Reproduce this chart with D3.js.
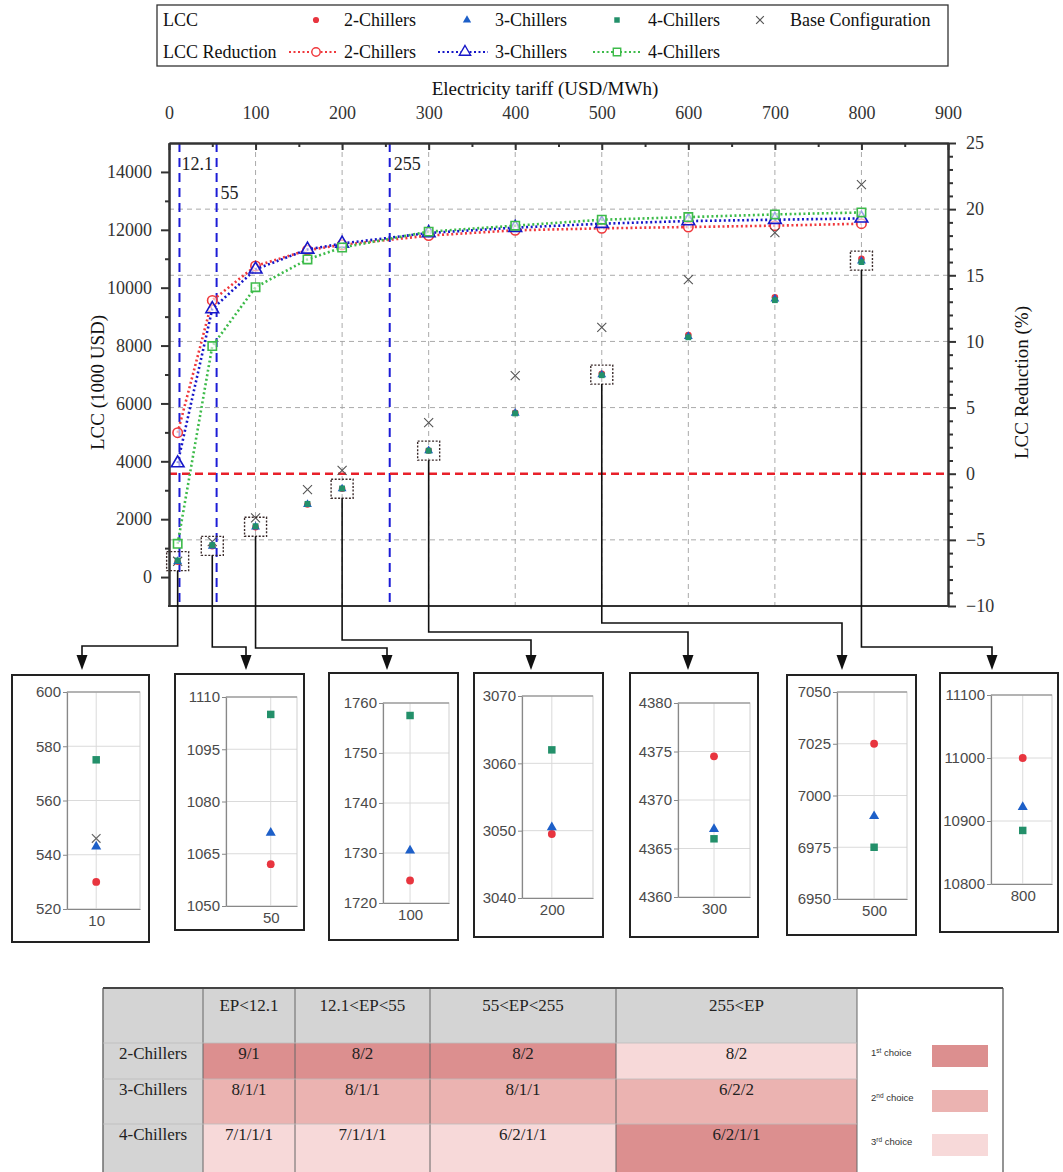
<!DOCTYPE html>
<html><head><meta charset="utf-8">
<script src="https://cdn.jsdelivr.net/npm/d3@7"></script>
<style>
body{margin:0;background:#fff;}
svg{display:block;}
</style></head><body>
<svg id="chart" width="1063" height="1172"></svg>
<script>
// ---------- data ----------
const tariffs   = [10, 50, 100, 160, 200, 300, 400, 500, 600, 700, 800];          // USD/MWh
const lcc2      = [530, 1062, 1724.5, 2510, 3049.5, 4374.5, 5680, 7025, 8363, 9669, 11000]; // 1000 USD
const lcc3      = [543, 1071, 1730.5, 2508, 3050.5, 4367, 5665, 6990, 8317, 9615, 10922];
const lcc4      = [575, 1105, 1757.5, 2530, 3062, 4366, 5655, 6975, 8286, 9568, 10885];
const lccBase   = [546, 1222, 2046, 3020, 3687, 5340, 6960, 8630, 10280, 11900, 13560];
const red2      = [3.1, 13.1, 15.7, 16.9, 17.3, 18.0, 18.4, 18.55, 18.65, 18.75, 18.9]; // LCC reduction %
const red3      = [0.8, 12.45, 15.45, 16.95, 17.4, 18.2, 18.6, 18.9, 19.1, 19.2, 19.3];
const red4      = [-5.3, 9.65, 14.1, 16.2, 17.1, 18.3, 18.75, 19.2, 19.4, 19.6, 19.75];
const thresholds = [12.1, 55, 255];
const xTicks    = d3.range(0, 901, 100);
const yLTicks   = d3.range(0, 14001, 2000);
const yRTicks   = d3.range(-10, 26, 5);

// zoomed detail panels
const insetTariffs = [10, 50, 100, 200, 300, 500, 800];
const insetRanges  = [[520,600],[1050,1110],[1720,1760],[3040,3070],[4360,4380],[6950,7050],[10800,11100]];
const insetSteps   = [20, 15, 10, 10, 5, 25, 100];

// summary table
const tableCols  = ["EP<12.1", "12.1<EP<55", "55<EP<255", "255<EP"];
const tableRows  = ["2-Chillers", "3-Chillers", "4-Chillers"];
const tableVals  = [["9/1","8/2","8/2","8/2"],["8/1/1","8/1/1","8/1/1","6/2/2"],["7/1/1/1","7/1/1/1","6/2/1/1","6/2/1/1"]];
const tableRank  = [[1,1,1,3],[2,2,2,2],[3,3,3,1]];
const rankNames  = [["1","st"],["2","nd"],["3","rd"]];

// ---------- styles ----------
const SERIF = "'Liberation Serif','Times New Roman',serif";
const SANS  = "'Liberation Sans',Arial,sans-serif";
const C = {
  red:"#e8353f", blue:"#1d5fc8", green:"#23906a", base:"#555",
  lred:"#f0383c", lblue:"#1616c8", lgreen:"#3dbb4a",
  thr:"#1c1cd6", zero:"#e8202a", grid:"#a0a0a0", axis:"#333"
};
const rankFill = {1:"#dc8f8f", 2:"#ebb3b1", 3:"#f7d9d9"};
const intFmt = d3.format("d");

const svg = d3.select("#chart");
const P = {left:169, right:948, top:143, bottom:606};
const x  = d3.scaleLinear().domain([0, 900]).range([P.left, P.right]);
const yL = d3.scaleLinear().domain([-1000, 15000]).range([P.bottom, P.top]);
const yR = d3.scaleLinear().domain([-10, 25]).range([P.bottom, P.top]);

// ---------- legend ----------
const lg = svg.append("g").attr("font-family", SERIF).attr("font-size", 18).attr("fill", "#111");
lg.append("rect").attr("x",157).attr("y",5).attr("width",791).attr("height",61)
  .attr("fill","none").attr("stroke","#333").attr("stroke-width",1.3);
const r1 = 26, r2 = 58;
lg.append("text").attr("x",163).attr("y",r1).text("LCC");
lg.append("text").attr("x",163).attr("y",r2).text("LCC Reduction");
const sym = (g, type, cx, cy, s, fill, stroke, sw) => {
  const gen = d3.symbol().type(type).size(s);
  g.append("path").attr("d", gen()).attr("transform",`translate(${cx},${cy})`)
    .attr("fill", fill).attr("stroke", stroke || "none").attr("stroke-width", sw || 0);
};
sym(lg, d3.symbolCircle, 316, r1-6, 30, C.red);
sym(lg, d3.symbolTriangle, 467, r1-6, 30, C.blue);
sym(lg, d3.symbolSquare, 617, r1-6, 30, C.green);
sym(lg, d3.symbolX, 760, r1-6, 40, "none", C.base, 1.2);
[["2-Chillers",344],["3-Chillers",495],["4-Chillers",648],["Base Configuration",790]]
  .forEach(([t,px]) => lg.append("text").attr("x",px).attr("y",r1).text(t));
[[289,336,C.lred,d3.symbolCircle,316,"2-Chillers",344],
 [438,488,C.lblue,d3.symbolTriangle,465,"3-Chillers",495],
 [593,641,C.lgreen,d3.symbolSquare,617,"4-Chillers",648]].forEach(([a,b,col,tp,mx,t,tx]) => {
  lg.append("line").attr("x1",a).attr("x2",b).attr("y1",r2-6).attr("y2",r2-6)
    .attr("stroke",col).attr("stroke-width",2).attr("stroke-dasharray","2,2.5");
  sym(lg, tp, mx, r2-6, 55, "#fff", col, 1.4);
  lg.append("text").attr("x",tx).attr("y",r2).text(t);
});

// ---------- grid ----------
const grid = svg.append("g");
grid.selectAll("line.v").data(xTicks.filter(d => d > 0 && d < 900)).join("line")
  .attr("x1", d => x(d)).attr("x2", d => x(d)).attr("y1", P.top).attr("y2", P.bottom)
  .attr("stroke", C.grid).attr("stroke-width", 0.9).attr("stroke-dasharray", "5,4");
grid.selectAll("line.h").data(yRTicks.filter(d => d > -10 && d < 25 && d !== 0)).join("line")
  .attr("x1", P.left).attr("x2", P.right).attr("y1", d => yR(d)).attr("y2", d => yR(d))
  .attr("stroke", C.grid).attr("stroke-width", 0.9).attr("stroke-dasharray", "5,4");

// threshold tariffs
svg.append("g").selectAll("line").data(thresholds).join("line")
  .attr("x1", d => x(d)).attr("x2", d => x(d)).attr("y1", P.top).attr("y2", P.bottom)
  .attr("stroke", C.thr).attr("stroke-width", 2).attr("stroke-dasharray", "9,6");
const thrLabelY = [170, 199, 170];
const thrLabelDx = [2, 4, 4];
svg.append("g").attr("font-family", SERIF).attr("font-size", 18).attr("fill","#222")
  .selectAll("text").data(thresholds).join("text")
  .attr("x", (d,i) => x(d) + thrLabelDx[i]).attr("y", (d,i) => thrLabelY[i]).text(d => d);

// zero-reduction reference
svg.append("line").attr("x1", P.left).attr("x2", P.right).attr("y1", yR(0)).attr("y2", yR(0))
  .attr("stroke", C.zero).attr("stroke-width", 2.6).attr("stroke-dasharray", "8,5");

// ---------- axes ----------
function styleAxis(g, fs) {
  g.select(".domain").attr("stroke", C.axis).attr("stroke-width", 2);
  g.selectAll(".tick line").attr("stroke", C.axis).attr("stroke-width", 2);
  g.selectAll(".tick text").attr("font-family", SERIF).attr("font-size", fs).attr("fill", "#333");
}
const axTop = svg.append("g").attr("transform", `translate(0,${P.top})`)
  .call(d3.axisTop(x).tickValues(xTicks).tickFormat(intFmt).tickSize(-7).tickPadding(24).tickSizeOuter(0));
styleAxis(axTop, 18);
svg.append("g").attr("transform", `translate(0,${P.top})`)
  .call(d3.axisTop(x).tickValues(d3.range(50, 900, 100)).tickSize(-4).tickFormat("").tickSizeOuter(0))
  .call(g => styleAxis(g, 0));
const axL = svg.append("g").attr("transform", `translate(${P.left},0)`)
  .call(d3.axisLeft(yL).tickValues(yLTicks).tickFormat(intFmt).tickSize(8).tickPadding(9).tickSizeOuter(0));
styleAxis(axL, 18);
svg.append("g").attr("transform", `translate(${P.left},0)`)
  .call(d3.axisLeft(yL).tickValues(d3.range(1000, 14001, 2000)).tickSize(4).tickFormat("").tickSizeOuter(0))
  .call(g => styleAxis(g, 0));
const axR = svg.append("g").attr("transform", `translate(${P.right},0)`)
  .call(d3.axisRight(yR).tickValues(yRTicks).tickFormat(intFmt).tickSize(8).tickPadding(10).tickSizeOuter(0));
styleAxis(axR, 18);
svg.append("g").attr("transform", `translate(${P.right},0)`)
  .call(d3.axisRight(yR).tickValues(d3.range(-9, 25, 1).filter(d => d % 5 !== 0)).tickSize(5).tickFormat("").tickSizeOuter(0))
  .call(g => styleAxis(g, 0));
svg.append("line").attr("x1", P.left - 1).attr("x2", P.right + 1).attr("y1", P.bottom).attr("y2", P.bottom)
  .attr("stroke", C.axis).attr("stroke-width", 2);

// titles
svg.append("text").attr("x", 545).attr("y", 95).attr("text-anchor","middle")
  .attr("font-family", SERIF).attr("font-size", 19).attr("fill","#111").text("Electricity tariff (USD/MWh)");
svg.append("text").attr("transform", `translate(104,${(P.top+P.bottom)/2+8}) rotate(-90)`).attr("text-anchor","middle")
  .attr("font-family", SERIF).attr("font-size", 19).attr("fill","#111").text("LCC (1000 USD)");
svg.append("text").attr("transform", `translate(1028,${(P.top+P.bottom)/2+8}) rotate(-90)`).attr("text-anchor","middle")
  .attr("font-family", SERIF).attr("font-size", 19).attr("fill","#111").text("LCC Reduction (%)");

// ---------- LCC reduction curves ----------
const redSeries = [
  {v: red2, col: C.lred,   type: d3.symbolCircle},
  {v: red3, col: C.lblue,  type: d3.symbolTriangle},
  {v: red4, col: C.lgreen, type: d3.symbolSquare}
];
const lineGen = d3.line().x(d => x(d[0])).y(d => yR(d[1]));
redSeries.forEach(s => {
  const pts = tariffs.map((t,i) => [t, s.v[i]]);
  svg.append("path").attr("d", lineGen(pts)).attr("fill","none")
    .attr("stroke", s.col).attr("stroke-width", 2.6).attr("stroke-dasharray", "2,2.6");
  svg.append("g").selectAll("path").data(pts).join("path")
    .attr("d", d3.symbol().type(s.type).size(70)())
    .attr("transform", d => `translate(${x(d[0])},${yR(d[1])})`)
    .attr("fill", "#fff").attr("fill-opacity", 0.6).attr("stroke", s.col).attr("stroke-width", 1.6);
});

// ---------- LCC points ----------
const lccG = svg.append("g");
lccG.selectAll("path.b").data(tariffs).join("path")
  .attr("d", d3.symbol().type(d3.symbolX).size(55)())
  .attr("transform", (t,i) => `translate(${x(t)},${yL(lccBase[i])})`)
  .attr("fill","none").attr("stroke", C.base).attr("stroke-width", 1.1);
[[lcc2, d3.symbolCircle, C.red],[lcc3, d3.symbolTriangle, C.blue],[lcc4, d3.symbolSquare, C.green]]
  .forEach(([v, tp, col]) => {
    lccG.append("g").selectAll("path").data(tariffs).join("path")
      .attr("d", d3.symbol().type(tp).size(34)())
      .attr("transform", (t,i) => `translate(${x(t)},${yL(v[i])})`)
      .attr("fill", col);
  });

// ---------- detail panels ----------
const panelLayout = [
  {frame:[12,675,149,942],  plot:[67,692,140,909],  xf:0.40, elbow:646, ax:82},
  {frame:[175,674,304,930], plot:[226,697,297,906], xf:0.63, elbow:647, ax:246},
  {frame:[329,673,458,940], plot:[383,703,449,903], xf:0.41, elbow:648, ax:387},
  {frame:[474,673,603,937], plot:[522,696,593,898], xf:0.42, elbow:640, ax:531},
  {frame:[630,673,758,937], plot:[678,703,750,897], xf:0.50, elbow:632, ax:688},
  {frame:[787,675,916,935], plot:[837,692,907,899], xf:0.53, elbow:623, ax:842},
  {frame:[940,673,1058,932],plot:[991,695,1052,884],xf:0.52, elbow:647, ax:992}
];
const boxW = 22, boxH = 19, tipY = 670;

insetTariffs.forEach((t, k) => {
  const i = tariffs.indexOf(t);
  const L = panelLayout[k];
  // highlight box on the main chart
  const cy = yL((lcc2[i] + lcc3[i] + lcc4[i]) / 3);
  const cx = x(t);
  svg.append("rect").attr("x", cx - boxW/2).attr("y", cy - boxH/2).attr("width", boxW).attr("height", boxH)
    .attr("fill","none").attr("stroke","#3a2a2a").attr("stroke-width",1.4).attr("stroke-dasharray","2,1.6");
  // connector with arrow
  svg.append("path").attr("d", `M${cx},${cy + boxH/2}V${L.elbow}H${L.ax}V${tipY - 12}`)
    .attr("fill","none").attr("stroke","#111").attr("stroke-width",1.6);
  svg.append("path").attr("d", `M${L.ax-5.5},${tipY-15}L${L.ax+5.5},${tipY-15}L${L.ax},${tipY}Z`).attr("fill","#111");

  // panel
  const g = svg.append("g");
  const [fx0, fy0, fx1, fy1] = L.frame;
  g.append("rect").attr("x", fx0).attr("y", fy0).attr("width", fx1 - fx0).attr("height", fy1 - fy0)
    .attr("fill","#fff").attr("stroke","#222").attr("stroke-width",2);
  const [px0, py0, px1, py1] = L.plot;
  const ys = d3.scaleLinear().domain(insetRanges[k]).range([py1, py0]);
  const xs = d3.scalePoint().domain([t]).range([px0, px1]).align(L.xf);
  const ticks = d3.range(insetRanges[k][0], insetRanges[k][1] + insetSteps[k]/2, insetSteps[k]);
  g.selectAll("line.h").data(ticks).join("line")
    .attr("x1", px0).attr("x2", px1).attr("y1", d => ys(d)).attr("y2", d => ys(d))
    .attr("stroke", "#dadada").attr("stroke-width", 1);
  g.append("line").attr("x1", xs(t)).attr("x2", xs(t)).attr("y1", py0).attr("y2", py1)
    .attr("stroke", "#dadada").attr("stroke-width", 1);
  g.append("rect").attr("x", px0).attr("y", py0).attr("width", px1 - px0).attr("height", py1 - py0)
    .attr("fill","none").attr("stroke","#cfcfcf").attr("stroke-width",1);
  g.append("line").attr("x1", px0).attr("x2", px1).attr("y1", py0).attr("y2", py0).attr("stroke","#888");
  const al = g.append("g").attr("transform", `translate(${px0},0)`)
    .call(d3.axisLeft(ys).tickValues(ticks).tickFormat(intFmt).tickSize(4).tickPadding(2).tickSizeOuter(0));
  const ab = g.append("g").attr("transform", `translate(0,${py1})`)
    .call(d3.axisBottom(xs).tickSize(0).tickPadding(6));
  [al, ab].forEach(a => {
    a.select(".domain").attr("stroke", "#888").attr("stroke-width", 1.2);
    a.selectAll(".tick line").attr("stroke", "#888");
    a.selectAll(".tick text").attr("font-family", SANS).attr("font-size", 15).attr("fill", "#4a4a4a");
  });
  const inRange = v => v >= insetRanges[k][0] && v <= insetRanges[k][1];
  if (inRange(lccBase[i]))
    g.append("path").attr("d", d3.symbol().type(d3.symbolX).size(50)())
      .attr("transform", `translate(${xs(t)},${ys(lccBase[i])})`)
      .attr("fill","none").attr("stroke","#666").attr("stroke-width",1.2);
  [[lcc2, d3.symbolCircle, C.red, 48],[lcc3, d3.symbolTriangle, C.blue, 44],[lcc4, d3.symbolSquare, C.green, 56]]
    .forEach(([v, tp, col, sz]) => {
      if (inRange(v[i]))
        g.append("path").attr("d", d3.symbol().type(tp).size(sz)())
          .attr("transform", `translate(${xs(t)},${ys(v[i])})`).attr("fill", col);
    });
});

// ---------- summary table ----------
const colX = [103, 203, 295, 430, 616, 857, 1003];
const rowY = [988, 1043, 1079, 1124, 1172];
const tg = svg.append("g").attr("font-family", SERIF).attr("font-size", 17).attr("fill", "#222");
// header row and row-label column
tg.append("rect").attr("x", colX[0]).attr("y", rowY[0]).attr("width", colX[5]-colX[0]).attr("height", rowY[1]-rowY[0]).attr("fill","#d4d4d4");
tg.append("rect").attr("x", colX[0]).attr("y", rowY[0]).attr("width", colX[1]-colX[0]).attr("height", rowY[4]-rowY[0]).attr("fill","#d4d4d4");
tableRank.forEach((row, r) => row.forEach((rk, c) => {
  tg.append("rect").attr("x", colX[c+1]).attr("y", rowY[r+1]).attr("width", colX[c+2]-colX[c+1])
    .attr("height", rowY[r+2]-rowY[r+1]).attr("fill", rankFill[rk]);
}));
// cell borders
for (let c = 0; c < colX.length; c++)
  tg.append("line").attr("x1", colX[c]).attr("x2", colX[c]).attr("y1", rowY[0]).attr("y2", rowY[4])
    .attr("stroke", "#666").attr("stroke-width", c === 0 || c === colX.length-1 ? 1.4 : 1);
tg.append("line").attr("x1", colX[0]).attr("x2", colX[6]).attr("y1", rowY[0]).attr("y2", rowY[0]).attr("stroke","#444").attr("stroke-width",2);
for (let r = 1; r < 4; r++)
  tg.append("line").attr("x1", colX[0]).attr("x2", colX[5]).attr("y1", rowY[r]).attr("y2", rowY[r])
    .attr("stroke", "#bbb").attr("stroke-width", 0.8);
const midX = c => (colX[c] + colX[c+1]) / 2;
tableCols.forEach((t, c) => tg.append("text").attr("x", midX(c+1)).attr("y", 1011).attr("text-anchor","middle").text(t));
tableRows.forEach((t, r) => tg.append("text").attr("x", midX(0)).attr("y", rowY[r+1] + 16).attr("text-anchor","middle").text(t));
tableVals.forEach((row, r) => row.forEach((v, c) =>
  tg.append("text").attr("x", midX(c+1)).attr("y", rowY[r+1] + 16).attr("text-anchor","middle").text(v)));
// rank key
const keyY = [1056, 1101, 1145];
rankNames.forEach(([n, sup], r) => {
  const t = tg.append("text").attr("x", 871).attr("y", keyY[r]).attr("font-family", SANS).attr("font-size", 9.5).attr("fill","#333");
  t.append("tspan").text(n);
  t.append("tspan").attr("font-size", 6.5).attr("dy", -3.5).text(sup);
  t.append("tspan").attr("dy", 3.5).text(" choice");
  tg.append("rect").attr("x", 932).attr("y", keyY[r] - 11).attr("width", 56).attr("height", 22).attr("fill", rankFill[r+1]);
});
</script>
</body></html>
